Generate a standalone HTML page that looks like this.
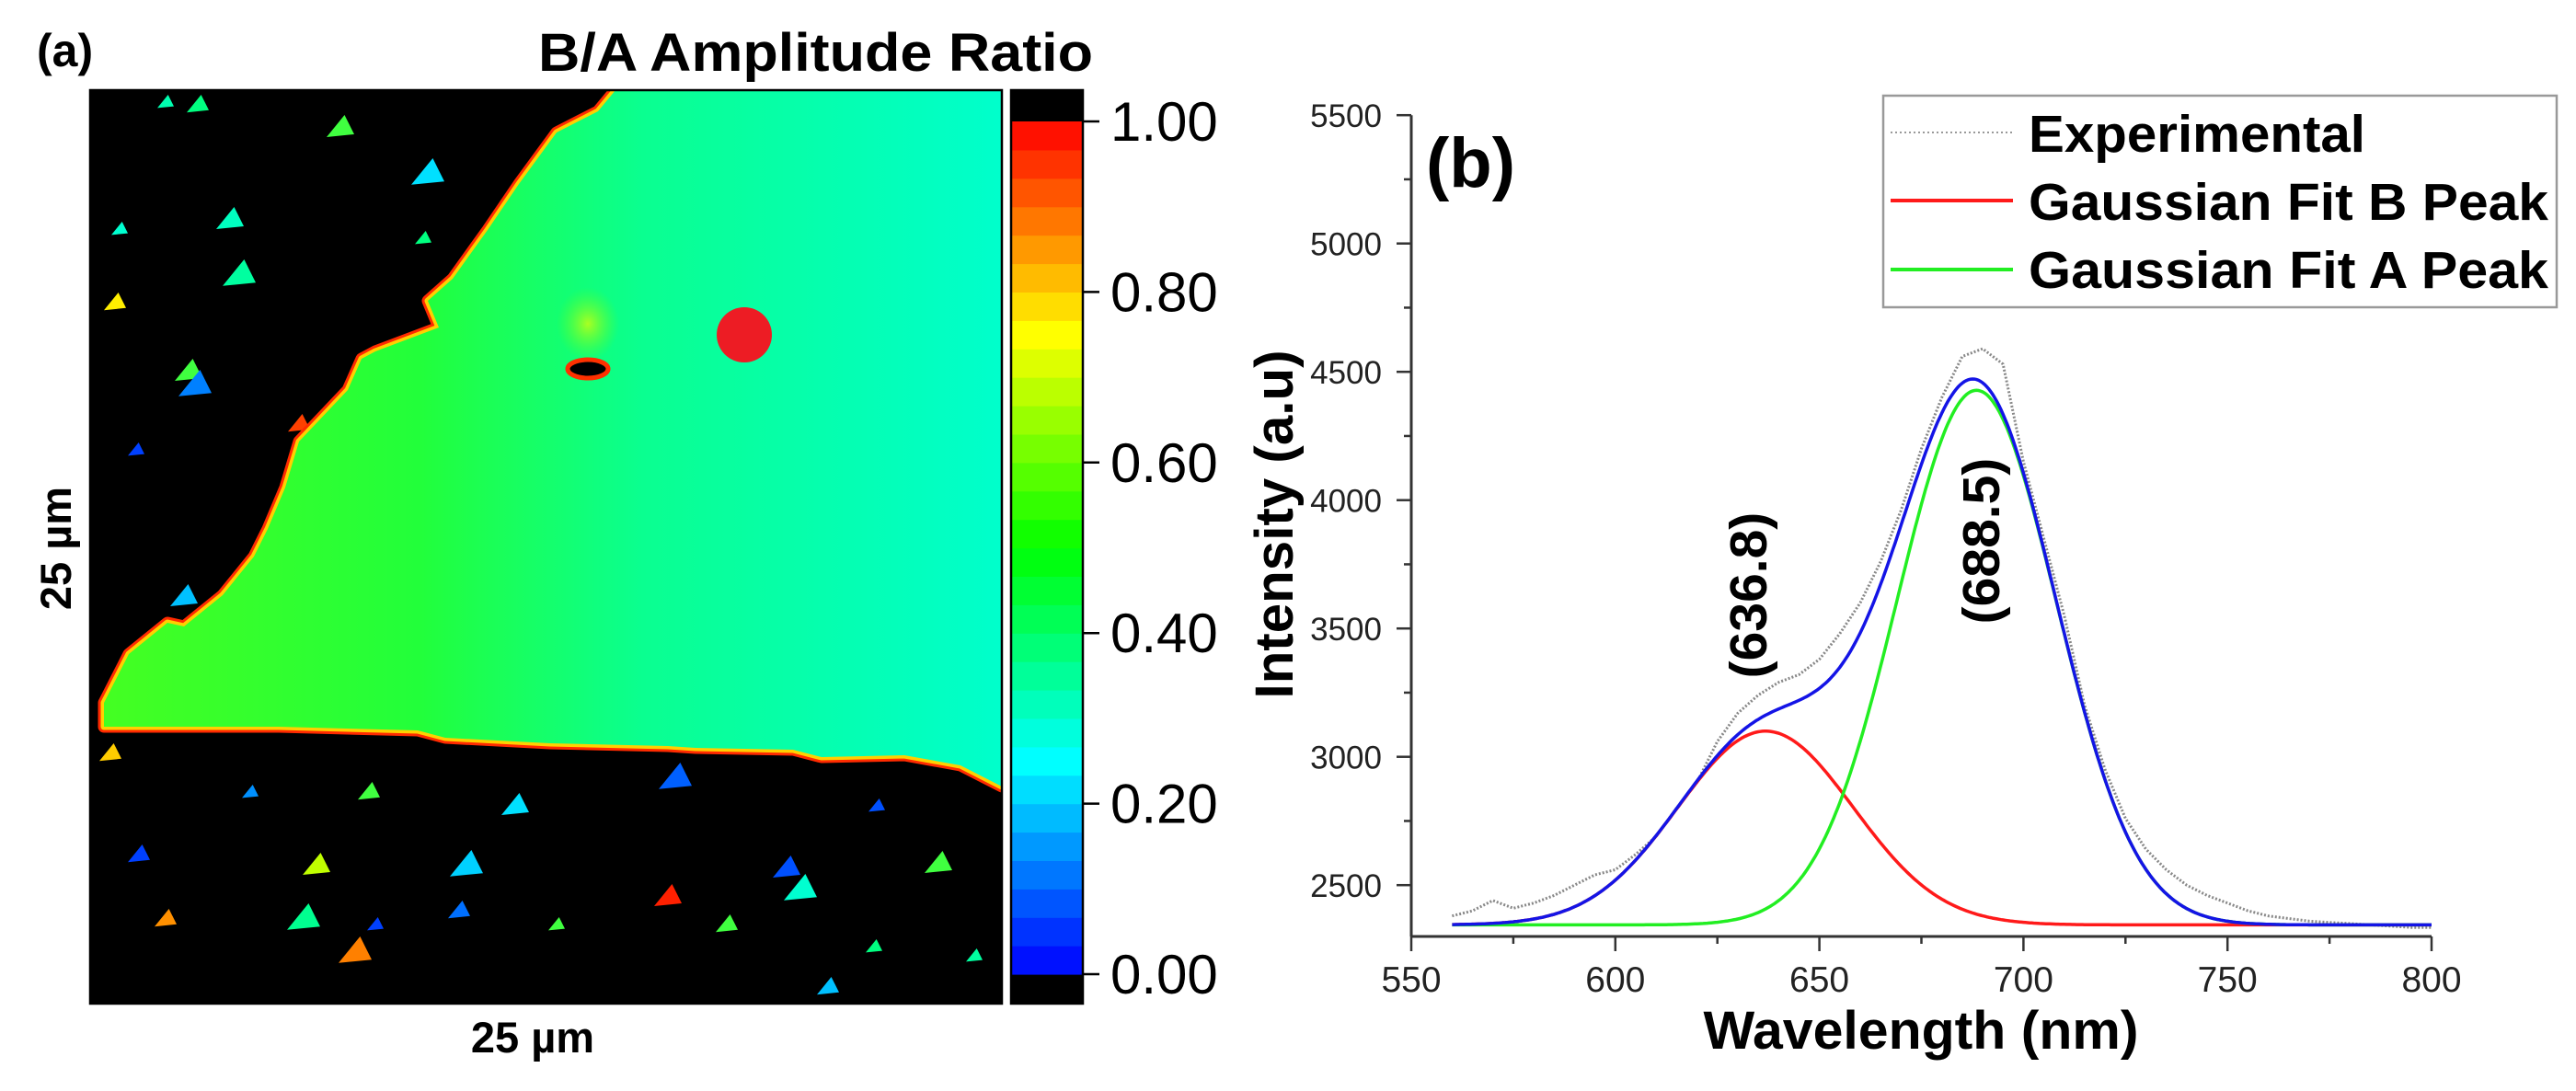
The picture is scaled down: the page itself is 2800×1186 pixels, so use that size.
<!DOCTYPE html>
<html><head><meta charset="utf-8">
<style>
html,body{margin:0;padding:0;background:#fff;}
svg{display:block;font-family:"Liberation Sans",Arial,sans-serif;}
</style></head>
<body>
<svg id="fig" width="2800" height="1186" viewBox="0 0 2800 1186" xmlns="http://www.w3.org/2000/svg">
<defs>
  <linearGradient id="flakeGrad" x1="113" y1="0" x2="1089" y2="0" gradientUnits="userSpaceOnUse">
    <stop offset="0" stop-color="#44ff22"/>
    <stop offset="0.35" stop-color="#22ff3a"/>
    <stop offset="0.6" stop-color="#0aff90"/>
    <stop offset="1" stop-color="#00ffcc"/>
  </linearGradient>
  <radialGradient id="blob" cx="0.5" cy="0.5" r="0.5">
    <stop offset="0" stop-color="#aaff22"/>
    <stop offset="1" stop-color="#55ff22" stop-opacity="0"/>
  </radialGradient>
  <clipPath id="mapClip"><rect x="98" y="98" width="991" height="993"/></clipPath>
  <clipPath id="plotClip"><rect x="1534" y="100" width="1120" height="918"/></clipPath>
</defs>

<!-- Panel (a) -->
<text x="40" y="72" font-size="50" font-weight="bold">(a)</text>
<text x="585" y="77" font-size="58" font-weight="bold" textLength="603" lengthAdjust="spacingAndGlyphs">B/A Amplitude Ratio</text>

<g id="map" clip-path="url(#mapClip)">
  <rect x="98" y="98" width="991" height="993" fill="#000"/>
  <g id="speckles"></g>
  <polygon id="flakeEdgeR" fill="none" stroke="#ff2a00" stroke-width="13" stroke-linejoin="round"/>
  <polygon id="flakeEdgeY" fill="none" stroke="#ffd000" stroke-width="7" stroke-linejoin="round"/>
  <polygon id="flake" fill="url(#flakeGrad)"/>
  <ellipse cx="639" cy="352" rx="34" ry="40" fill="url(#blob)"/>
  <ellipse cx="639" cy="401" rx="22" ry="10" fill="#000" stroke="#ff3000" stroke-width="5"/>
  <circle cx="809" cy="364" r="30" fill="#ed1c24"/>
</g>
<rect x="98" y="98" width="991" height="993" fill="none" stroke="#000" stroke-width="2.5"/>

<g id="colorbar"></g>
<g id="cbTicks"></g>

<text x="579" y="1144" font-size="47" font-weight="bold" text-anchor="middle">25 µm</text>
<text x="77" y="596" font-size="47" font-weight="bold" text-anchor="middle" transform="rotate(-90 77 596)">25 µm</text>

<!-- Panel (b) -->
<g id="axes"></g>
<g id="series" clip-path="url(#plotClip)"></g>

<text x="1550" y="203" font-size="76" font-weight="bold">(b)</text>
<text x="1405" y="570" font-size="58" font-weight="bold" text-anchor="middle" transform="rotate(-90 1405 570)" textLength="379" lengthAdjust="spacingAndGlyphs">Intensity (a.u)</text>
<text x="2088" y="1140" font-size="58" font-weight="bold" text-anchor="middle" textLength="473" lengthAdjust="spacingAndGlyphs">Wavelength (nm)</text>
<text x="1920" y="647" font-size="57" font-weight="bold" text-anchor="middle" transform="rotate(-90 1920 647)">(636.8)</text>
<text x="2173" y="588" font-size="57" font-weight="bold" text-anchor="middle" transform="rotate(-90 2173 588)">(688.5)</text>

<g>
  <rect x="2047" y="104" width="732" height="230" fill="#fff" stroke="#999" stroke-width="2.5"/>
  <line x1="2055" y1="144" x2="2188" y2="144" stroke="#999" stroke-width="2" stroke-dasharray="2,3"/>
  <text x="2205" y="165" font-size="57" font-weight="bold" textLength="366" lengthAdjust="spacingAndGlyphs">Experimental</text>
  <line x1="2055" y1="218" x2="2188" y2="218" stroke="#ff1a1a" stroke-width="4"/>
  <text x="2205" y="239" font-size="57" font-weight="bold" textLength="565" lengthAdjust="spacingAndGlyphs">Gaussian Fit B Peak</text>
  <line x1="2055" y1="293" x2="2188" y2="293" stroke="#22ee22" stroke-width="4"/>
  <text x="2205" y="313" font-size="57" font-weight="bold" textLength="565" lengthAdjust="spacingAndGlyphs">Gaussian Fit A Peak</text>
</g>
</svg>

<script>
// ---- Colorbar data ----
const cbTickValues = [0, 0.2, 0.4, 0.6, 0.8, 1.0];
const cbTickLabels = ["0.00", "0.20", "0.40", "0.60", "0.80", "1.00"];
const cbLevels = 30;

// ---- Spectrum data ----
const xTicks = [550, 600, 650, 700, 750, 800];
const yTicks = [2500, 3000, 3500, 4000, 4500, 5000, 5500];
const peakNames = ["B", "A"];
const peakCenters = [636.8, 688.5];
const peakAmplitudes = [755, 2083];
const peakSigmas = [21.5, 19.5];
const fitBaseline = [2345];
const fitRange = [560, 800];
const expWavelengths = [560,565,570,575,580,585,590,595,600,605,610,615,620,625,630,635,640,645,650,655,660,665,670,675,680,685,690,695,700,705,710,715,720,725,730,735,740,745,750,755,760,765,770,775,780,785,790,795,800];
const expIntensity = [2380,2400,2440,2410,2430,2460,2500,2540,2560,2620,2690,2800,2900,3060,3170,3240,3290,3320,3380,3480,3600,3760,3960,4200,4400,4560,4590,4530,4150,3850,3550,3200,2950,2760,2640,2560,2500,2460,2430,2400,2380,2370,2360,2355,2350,2345,2340,2335,2335];

const NS = "http://www.w3.org/2000/svg";
function mk(tag, attrs, parent){ const e=document.createElementNS(NS,tag); for(const k in attrs) e.setAttribute(k,attrs[k]); if(parent) parent.appendChild(e); return e; }

// ---- Map flake polygon ----
const flakePts = "669,98 1089,98 1089,855 1044,832 983,821 893,823 862,815 756,813 726,811 598,808 484,802 454,794 303,790 113,790 113,764 140,711 182,677 200,681 242,647 276,605 291,575 310,530 325,480 378,424 393,390 408,382 477,356 465,327 492,303 530,250 564,200 575,185 605,144 650,121";
["flakeEdgeR","flakeEdgeY","flake"].forEach(id=>document.getElementById(id).setAttribute("points", flakePts));

// speckles in the black substrate region
const speck = [[180,112,"#00ffb0"],[215,115,"#00ff80"],[370,140,"#40ff40"],[465,190,"#00e0ff"],[130,250,"#00ffd0"],[125,330,"#ffee00"],[205,405,"#40ff40"],[212,420,"#0080ff"],[148,490,"#0040ff"],[325,462,"#ff4000"],[200,650,"#00c0ff"],[574,196,"#ff2000"],[272,862,"#0090ff"],[401,862,"#40ff40"],[560,877,"#00e0ff"],[734,847,"#0060ff"],[953,877,"#0050ff"],[151,930,"#0040ff"],[344,942,"#c0ff00"],[507,942,"#00d0ff"],[408,1006,"#0040ff"],[499,991,"#0070ff"],[726,976,"#ff2000"],[870,968,"#00ffd0"],[1059,1040,"#00ffa0"],[900,1074,"#00c0ff"],[855,945,"#0050ff"],[386,1036,"#ff8000"],[605,1006,"#40ff40"],[790,1006,"#40ff40"],[250,240,"#00ffc0"],[260,300,"#00ffa0"],[460,260,"#00ff80"],[120,820,"#ffcc00"],[1020,940,"#40ff40"],[330,1000,"#00ff90"],[950,1030,"#00ff80"],[180,1000,"#ff9000"]];
const spG = document.getElementById("speckles");
speck.forEach((s,i)=>{
  const x=s[0], y=s[1], r=9+(i%4)*3;
  const p = mk("polygon",{points:`${x-r},${y+r*0.6} ${x+r*0.3},${y-r} ${x+r},${y+r*0.4}`, fill:s[2]}, spG);
  
  
});

// ---- Colorbar ----
const cbX=1099, cbW=78, cbTop=98, cbBot=1091, v1y=132, v0y=1059;
function cbY(v){ return v0y + (v1y - v0y)*v; }
const cbG = document.getElementById("colorbar");
let r0 = mk("rect",{x:cbX,y:cbTop,width:cbW,height:v1y-cbTop,fill:"#000"},cbG);


let r1 = mk("rect",{x:cbX,y:v0y,width:cbW,height:cbBot-v0y,fill:"#000"},cbG);


for(let i=0;i<cbLevels;i++){
  const a=i/cbLevels, b=(i+1)/cbLevels, vm=(a+b)/2;
  const hue = 240*(1-vm);
  const band = mk("rect",{x:cbX,y:cbY(b),width:cbW,height:cbY(a)-cbY(b)+0.6,fill:`hsl(${hue},100%,50%)`},cbG);
  
  
}
let cbFrame = mk("rect",{x:cbX,y:cbTop,width:cbW,height:cbBot-cbTop,fill:"none",stroke:"#000","stroke-width":2.5},cbG);


const cbT = document.getElementById("cbTicks");
cbTickValues.forEach((v,i)=>{
  const y=cbY(v);
  const t = mk("line",{x1:cbX+cbW,y1:y,x2:cbX+cbW+18,y2:y,stroke:"#000","stroke-width":2.5},cbT);
  
  
  const l = mk("text",{x:1207,y:y+21,"font-size":60},cbT);
  l.textContent = cbTickLabels[i];
  
  
});

// ---- Spectrum axes ----
const X0=1534, Y0=1018, xMin=550, xMax=800, yMin=2300, yMax=5500;
const pxPer50 = 221.8, pxPer500 = 139.5;
function sx(v){ return X0 + (v - xMin)/50*pxPer50; }
function sy(v){ return Y0 - (v - yMin)/500*pxPer500; }
const ax = document.getElementById("axes");
let xl = mk("line",{x1:X0,y1:Y0,x2:sx(xMax),y2:Y0,stroke:"#333","stroke-width":3},ax);


let yl = mk("line",{x1:X0,y1:Y0,x2:X0,y2:sy(yMax),stroke:"#333","stroke-width":3},ax);


for(let v=xMin; v<=xMax; v+=25){
  const major = (v%50===0);
  const t = mk("line",{x1:sx(v),y1:Y0,x2:sx(v),y2:Y0+(major?16:8),stroke:"#333","stroke-width":2.5},ax);
  
  
}
xTicks.forEach(v=>{
  const l = mk("text",{x:sx(v),y:1078,"font-size":39,"text-anchor":"middle",fill:"#222"},ax);
  l.textContent = String(v);
  
  
});
for(let v=2500; v<=yMax; v+=250){
  const major = (v%500===0);
  const t = mk("line",{x1:X0,y1:sy(v),x2:X0-(major?16:8),y2:sy(v),stroke:"#333","stroke-width":2.5},ax);
  
  
}
yTicks.forEach(v=>{
  const l = mk("text",{x:1502,y:sy(v)+13,"font-size":35,"text-anchor":"end",fill:"#222"},ax);
  l.textContent = String(v);
  
  
});

// ---- Series ----
const sg = document.getElementById("series");
function gauss(x, k){ const d=(x-peakCenters[k])/peakSigmas[k]; return peakAmplitudes[k]*Math.exp(-0.5*d*d); }
function curvePts(fn){ const pts=[]; for(let x=fitRange[0]; x<=fitRange[1]+1e-9; x+=0.5){ pts.push(sx(x).toFixed(1)+","+sy(fn(x)).toFixed(1)); } return pts.join(" "); }

const expPts = expWavelengths.map((w,i)=>sx(w).toFixed(1)+","+sy(expIntensity[i]).toFixed(1)).join(" ");
let ex = mk("polyline",{points:expPts,fill:"none",stroke:"#888","stroke-width":3,"stroke-dasharray":"2,2"},sg);



let rb = mk("polyline",{points:curvePts(x=>fitBaseline[0]+gauss(x,0)),fill:"none",stroke:"#ff1a1a","stroke-width":3.5},sg);


let ga = mk("polyline",{points:curvePts(x=>fitBaseline[0]+gauss(x,1)),fill:"none",stroke:"#22ee22","stroke-width":3.5},sg);


let cm = mk("polyline",{points:curvePts(x=>fitBaseline[0]+gauss(x,0)+gauss(x,1)),fill:"none",stroke:"#1414e6","stroke-width":3.5},sg);


</script>
</body></html>
